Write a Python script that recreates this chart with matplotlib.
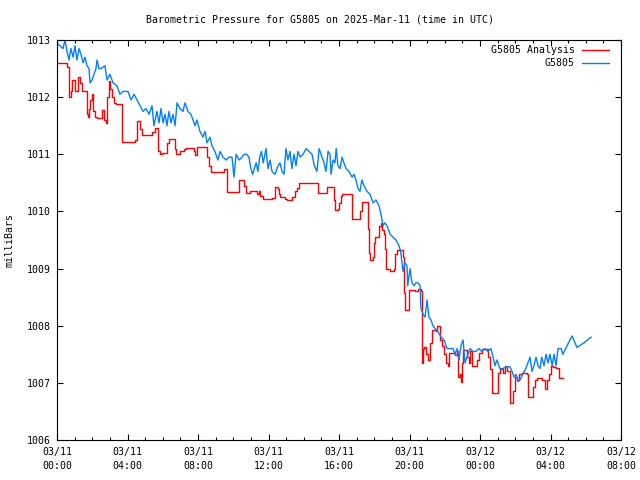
import matplotlib
matplotlib.use("Agg")
import matplotlib.pyplot as plt
from matplotlib.ticker import MultipleLocator, FixedLocator

plt.rcParams['font.family'] = ['DejaVu Sans Mono']
plt.rcParams['font.size'] = 7.1

# hours since 2025-03-11 00:00 UTC
blue_t = [0.00, 0.17, 0.34, 0.45, 0.57, 0.68, 0.79, 0.91, 1.02, 1.13, 1.25, 1.36, 1.48, 1.59, 1.70, 1.82,
          1.87, 1.99, 2.10, 2.21, 2.27, 2.38, 2.50, 2.72, 2.84, 3.00, 3.18, 3.40, 3.57, 3.74, 4.03, 4.20,
          4.37, 4.54, 4.71, 4.88, 5.05, 5.22, 5.39, 5.50, 5.67, 5.79, 5.90, 6.02, 6.13, 6.24, 6.35, 6.47,
          6.58, 6.70, 6.81, 6.98, 7.15, 7.26, 7.43, 7.60, 7.72, 7.83, 7.94, 8.11, 8.28, 8.40, 8.51, 8.68,
          8.79, 8.96, 9.13, 9.25, 9.42, 9.59, 9.76, 9.93, 10.04, 10.16, 10.33, 10.50, 10.60, 10.77, 10.89,
          11.00, 11.10, 11.30, 11.40, 11.50, 11.60, 11.70, 11.86, 11.97, 12.09, 12.20, 12.37, 12.54, 12.65,
          12.77, 12.88, 12.99, 13.10, 13.22, 13.33, 13.45, 13.56, 13.67, 13.79, 13.96, 14.13, 14.30, 14.47,
          14.60, 14.75, 14.87, 14.98, 15.15, 15.26, 15.38, 15.49, 15.55, 15.66, 15.77, 15.84, 15.94, 16.06,
          16.17, 16.28, 16.40, 16.57, 16.74, 16.85, 16.96, 17.08, 17.19, 17.30, 17.42, 17.59, 17.76, 17.93,
          18.10, 18.27, 18.38, 18.50, 18.60, 18.72, 18.90, 19.06, 19.23, 19.40, 19.50, 19.63, 19.74, 19.86,
          19.90, 20.03, 20.14, 20.26, 20.37, 20.48, 20.60, 20.65, 20.77, 20.88, 21.00, 21.10, 21.22, 21.33,
          21.45, 21.60, 21.79, 21.96, 22.13, 22.30, 22.47, 22.58, 22.70, 22.81, 22.92, 23.04, 23.15, 23.26,
          23.43, 23.60, 23.77, 23.94, 24.10, 24.28, 24.45, 24.62, 24.74, 24.85, 24.96, 25.13, 25.30, 25.47,
          25.70, 25.82, 25.93, 26.04, 26.16, 26.27, 26.38, 26.50, 26.60, 26.72, 26.84, 26.95, 27.06, 27.18,
          27.29, 27.40, 27.50, 27.63, 27.75, 27.86, 27.97, 28.09, 28.20, 28.31, 28.43, 28.60, 28.70, 28.94,
          29.22, 29.50, 29.90, 30.30]
blue_p = [1012.95, 1012.90, 1012.85, 1013.00, 1012.80, 1012.65, 1012.85, 1012.70, 1012.90, 1012.65, 1012.85,
          1012.75, 1012.60, 1012.70, 1012.55, 1012.50, 1012.25, 1012.30, 1012.40, 1012.50, 1012.65, 1012.50,
          1012.50, 1012.55, 1012.30, 1012.40, 1012.25, 1012.20, 1012.05, 1012.10, 1012.10, 1011.95, 1012.05,
          1011.95, 1011.85, 1011.75, 1011.80, 1011.70, 1011.85, 1011.50, 1011.75, 1011.55, 1011.80, 1011.55,
          1011.70, 1011.50, 1011.75, 1011.55, 1011.70, 1011.50, 1011.90, 1011.80, 1011.75, 1011.90, 1011.75,
          1011.70, 1011.60, 1011.50, 1011.60, 1011.40, 1011.30, 1011.40, 1011.20, 1011.30, 1011.15, 1011.05,
          1010.90, 1011.05, 1010.95, 1010.90, 1010.95, 1010.95, 1010.60, 1011.00, 1010.90, 1010.95, 1011.00,
          1011.00, 1010.95, 1010.75, 1010.65, 1010.85, 1010.70, 1010.95, 1011.05, 1010.85, 1011.10, 1010.75,
          1010.90, 1010.70, 1010.65, 1010.80, 1010.85, 1010.70, 1010.65, 1011.10, 1010.90, 1011.05, 1010.75,
          1011.00, 1010.80, 1011.05, 1010.95, 1011.00, 1011.10, 1011.05, 1011.00, 1010.80, 1010.70, 1011.10,
          1011.00, 1010.85, 1010.70, 1011.05, 1011.00, 1010.65, 1010.90, 1010.85, 1011.10, 1010.80, 1010.75,
          1010.95, 1010.85, 1010.75, 1010.70, 1010.60, 1010.65, 1010.55, 1010.40, 1010.35, 1010.55, 1010.45,
          1010.35, 1010.30, 1010.15, 1010.20, 1010.10, 1009.95, 1009.75, 1009.80, 1009.75, 1009.60, 1009.55,
          1009.50, 1009.40, 1009.30, 1008.95, 1009.10, 1009.05, 1008.70, 1009.00, 1008.75, 1008.70, 1008.75,
          1008.75, 1008.70, 1008.30, 1008.20, 1008.15, 1008.45, 1008.15, 1008.10, 1008.00, 1007.95, 1007.90,
          1007.80, 1007.75, 1007.60, 1007.60, 1007.60, 1007.50, 1007.60, 1007.40, 1007.65, 1007.75, 1007.35,
          1007.45, 1007.60, 1007.55, 1007.55, 1007.60, 1007.55, 1007.60, 1007.55, 1007.60, 1007.45, 1007.30,
          1007.40, 1007.25, 1007.25, 1007.28, 1007.28, 1007.20, 1007.10, 1007.15, 1007.02, 1007.05, 1007.12,
          1007.20, 1007.25, 1007.35, 1007.45, 1007.20, 1007.30, 1007.45, 1007.30, 1007.25, 1007.45, 1007.30,
          1007.50, 1007.35, 1007.50, 1007.30, 1007.50, 1007.30, 1007.60, 1007.60, 1007.50, 1007.65, 1007.82,
          1007.62, 1007.70, 1007.80]

red_t = [0.00, 0.57, 0.68, 0.79, 0.85, 1.02, 1.19, 1.30, 1.42, 1.70, 1.76, 1.82, 1.87, 1.99, 2.04, 2.16,
         2.27, 2.55, 2.67, 2.78, 2.84, 2.95, 3.00, 3.12, 3.23, 3.35, 3.69, 4.43, 4.54, 4.71, 4.82, 5.39,
         5.56, 5.73, 5.84, 5.96, 6.24, 6.35, 6.70, 6.75, 6.98, 7.20, 7.32, 7.77, 7.83, 7.94, 8.51, 8.62,
         8.74, 9.48, 9.65, 10.33, 10.60, 10.72, 10.95, 11.35, 11.46, 11.52, 11.69, 12.20, 12.37, 12.54,
         12.60, 12.65, 12.94, 13.05, 13.33, 13.50, 13.62, 13.73, 14.81, 15.32, 15.72, 15.77, 15.94, 16.00,
         16.11, 16.17, 16.74, 17.19, 17.30, 17.65, 17.70, 17.76, 17.93, 17.99, 18.04, 18.27, 18.38, 18.44,
         18.55, 18.60, 18.67, 18.89, 19.12, 19.18, 19.29, 19.63, 19.69, 19.74, 19.97, 20.31, 20.48, 20.65,
         20.71, 20.77, 20.82, 20.94, 21.05, 21.16, 21.28, 21.50, 21.56, 21.73, 21.84, 21.96, 22.07, 22.18,
         22.24, 22.58, 22.70, 22.75, 22.87, 22.92, 22.98, 23.04, 23.26, 23.38, 23.43, 23.55, 23.83, 23.94,
         24.11, 24.45, 24.57, 24.68, 25.02, 25.13, 25.30, 25.42, 25.53, 25.70, 25.87, 25.98, 26.09, 26.20,
         26.38, 26.67, 26.72, 27.01, 27.12, 27.23, 27.52, 27.69, 27.80, 27.92, 28.03, 28.14, 28.31, 28.49,
         28.71]
red_p = [1012.60, 1012.52, 1012.00, 1012.10, 1012.30, 1012.10, 1012.35, 1012.25, 1012.10, 1011.70, 1011.65,
         1011.80, 1011.95, 1012.05, 1011.75, 1011.65, 1011.63, 1011.78, 1011.60, 1011.55, 1012.00, 1012.28,
         1012.15, 1012.00, 1011.90, 1011.88, 1011.21, 1011.25, 1011.58, 1011.45, 1011.34, 1011.39, 1011.46,
         1011.05, 1011.00, 1011.02, 1011.20, 1011.27, 1011.10, 1011.00, 1011.05, 1011.10, 1011.11, 1011.05,
         1010.98, 1011.13, 1010.95, 1010.80, 1010.69, 1010.74, 1010.34, 1010.55, 1010.45, 1010.32, 1010.35,
         1010.30, 1010.35, 1010.27, 1010.22, 1010.24, 1010.43, 1010.40, 1010.30, 1010.25, 1010.22, 1010.20,
         1010.25, 1010.35, 1010.41, 1010.50, 1010.32, 1010.43, 1010.20, 1010.02, 1010.05, 1010.15, 1010.27,
         1010.30, 1009.87, 1010.00, 1010.17, 1009.70, 1009.27, 1009.15, 1009.20, 1009.45, 1009.55, 1009.75,
         1009.80, 1009.68, 1009.60, 1009.35, 1009.00, 1008.95, 1009.00, 1009.25, 1009.33, 1009.20, 1008.57,
         1008.27, 1008.62, 1008.60, 1008.65, 1008.60, 1007.35, 1007.60, 1007.63, 1007.50, 1007.40, 1007.70,
         1007.92, 1007.90, 1008.00, 1007.75, 1007.65, 1007.50, 1007.35, 1007.30, 1007.52, 1007.48, 1007.55,
         1007.10, 1007.15, 1007.01, 1007.35, 1007.57, 1007.45, 1007.35, 1007.55, 1007.30, 1007.40, 1007.52,
         1007.60, 1007.45, 1007.25, 1006.82, 1007.17, 1007.25, 1007.17, 1007.30, 1007.20, 1006.65, 1006.85,
         1007.10, 1007.05, 1007.15, 1007.18, 1007.15, 1006.75, 1006.92, 1007.05, 1007.08, 1007.05, 1006.90,
         1007.05, 1007.15, 1007.30, 1007.28, 1007.26, 1007.08, 1007.08]

x_tick_hours = [0, 4, 8, 12, 16, 20, 24, 28, 32]
x_tick_labels = ["03/11\n00:00", "03/11\n04:00", "03/11\n08:00", "03/11\n12:00", "03/11\n16:00",
                 "03/11\n20:00", "03/12\n00:00", "03/12\n04:00", "03/12\n08:00"]
y_ticks = [1006, 1007, 1008, 1009, 1010, 1011, 1012, 1013]

series_names = ["G5805 Analysis", "G5805"]
series_colors = ["#ff0000", "#0080ff"]

fig = plt.figure(figsize=(6.4, 4.8), dpi=100)
ax = fig.add_axes([57/640, 40/480, 564/640, 400/480])

ax.plot(red_t, red_p, color=series_colors[0], lw=1.0, drawstyle='steps-post')
ax.plot(blue_t, blue_p, color=series_colors[1], lw=1.0)

ax.set_xlim(0, 32)
ax.set_ylim(1006, 1013)
ax.xaxis.set_major_locator(FixedLocator(x_tick_hours))
ax.set_xticklabels(x_tick_labels, linespacing=1.55)
ax.xaxis.set_minor_locator(MultipleLocator(1))
ax.set_yticks(y_ticks)
ax.set_yticklabels([str(v) for v in y_ticks])

ax.tick_params(which='both', direction='in', top=True, right=True, width=0.8, colors='black')
ax.tick_params(which='major', length=4.0)
ax.tick_params(which='minor', length=2.0)
ax.tick_params(axis='x', which='major', pad=5)
ax.tick_params(axis='y', which='major', pad=4.5)
for s in ax.spines.values():
    s.set_linewidth(0.8)

# legend (gnuplot style: right-aligned text, sample to the right)
for i, (name, col) in enumerate(zip(series_names, series_colors)):
    yy = 0.975 - i * 0.0325
    ax.text(0.918, yy, name, ha='right', va='center', transform=ax.transAxes)
    ax.plot([0.931, 0.979], [yy, yy], color=col, lw=1.0, transform=ax.transAxes)

fig.text(0.5, 1 - 19/480, "Barometric Pressure for G5805 on 2025-Mar-11 (time in UTC)",
         ha='center', va='center')
fig.text(10/640, 0.5, "milliBars", rotation=90, ha='center', va='center')

fig.savefig("out.png", dpi=100)
